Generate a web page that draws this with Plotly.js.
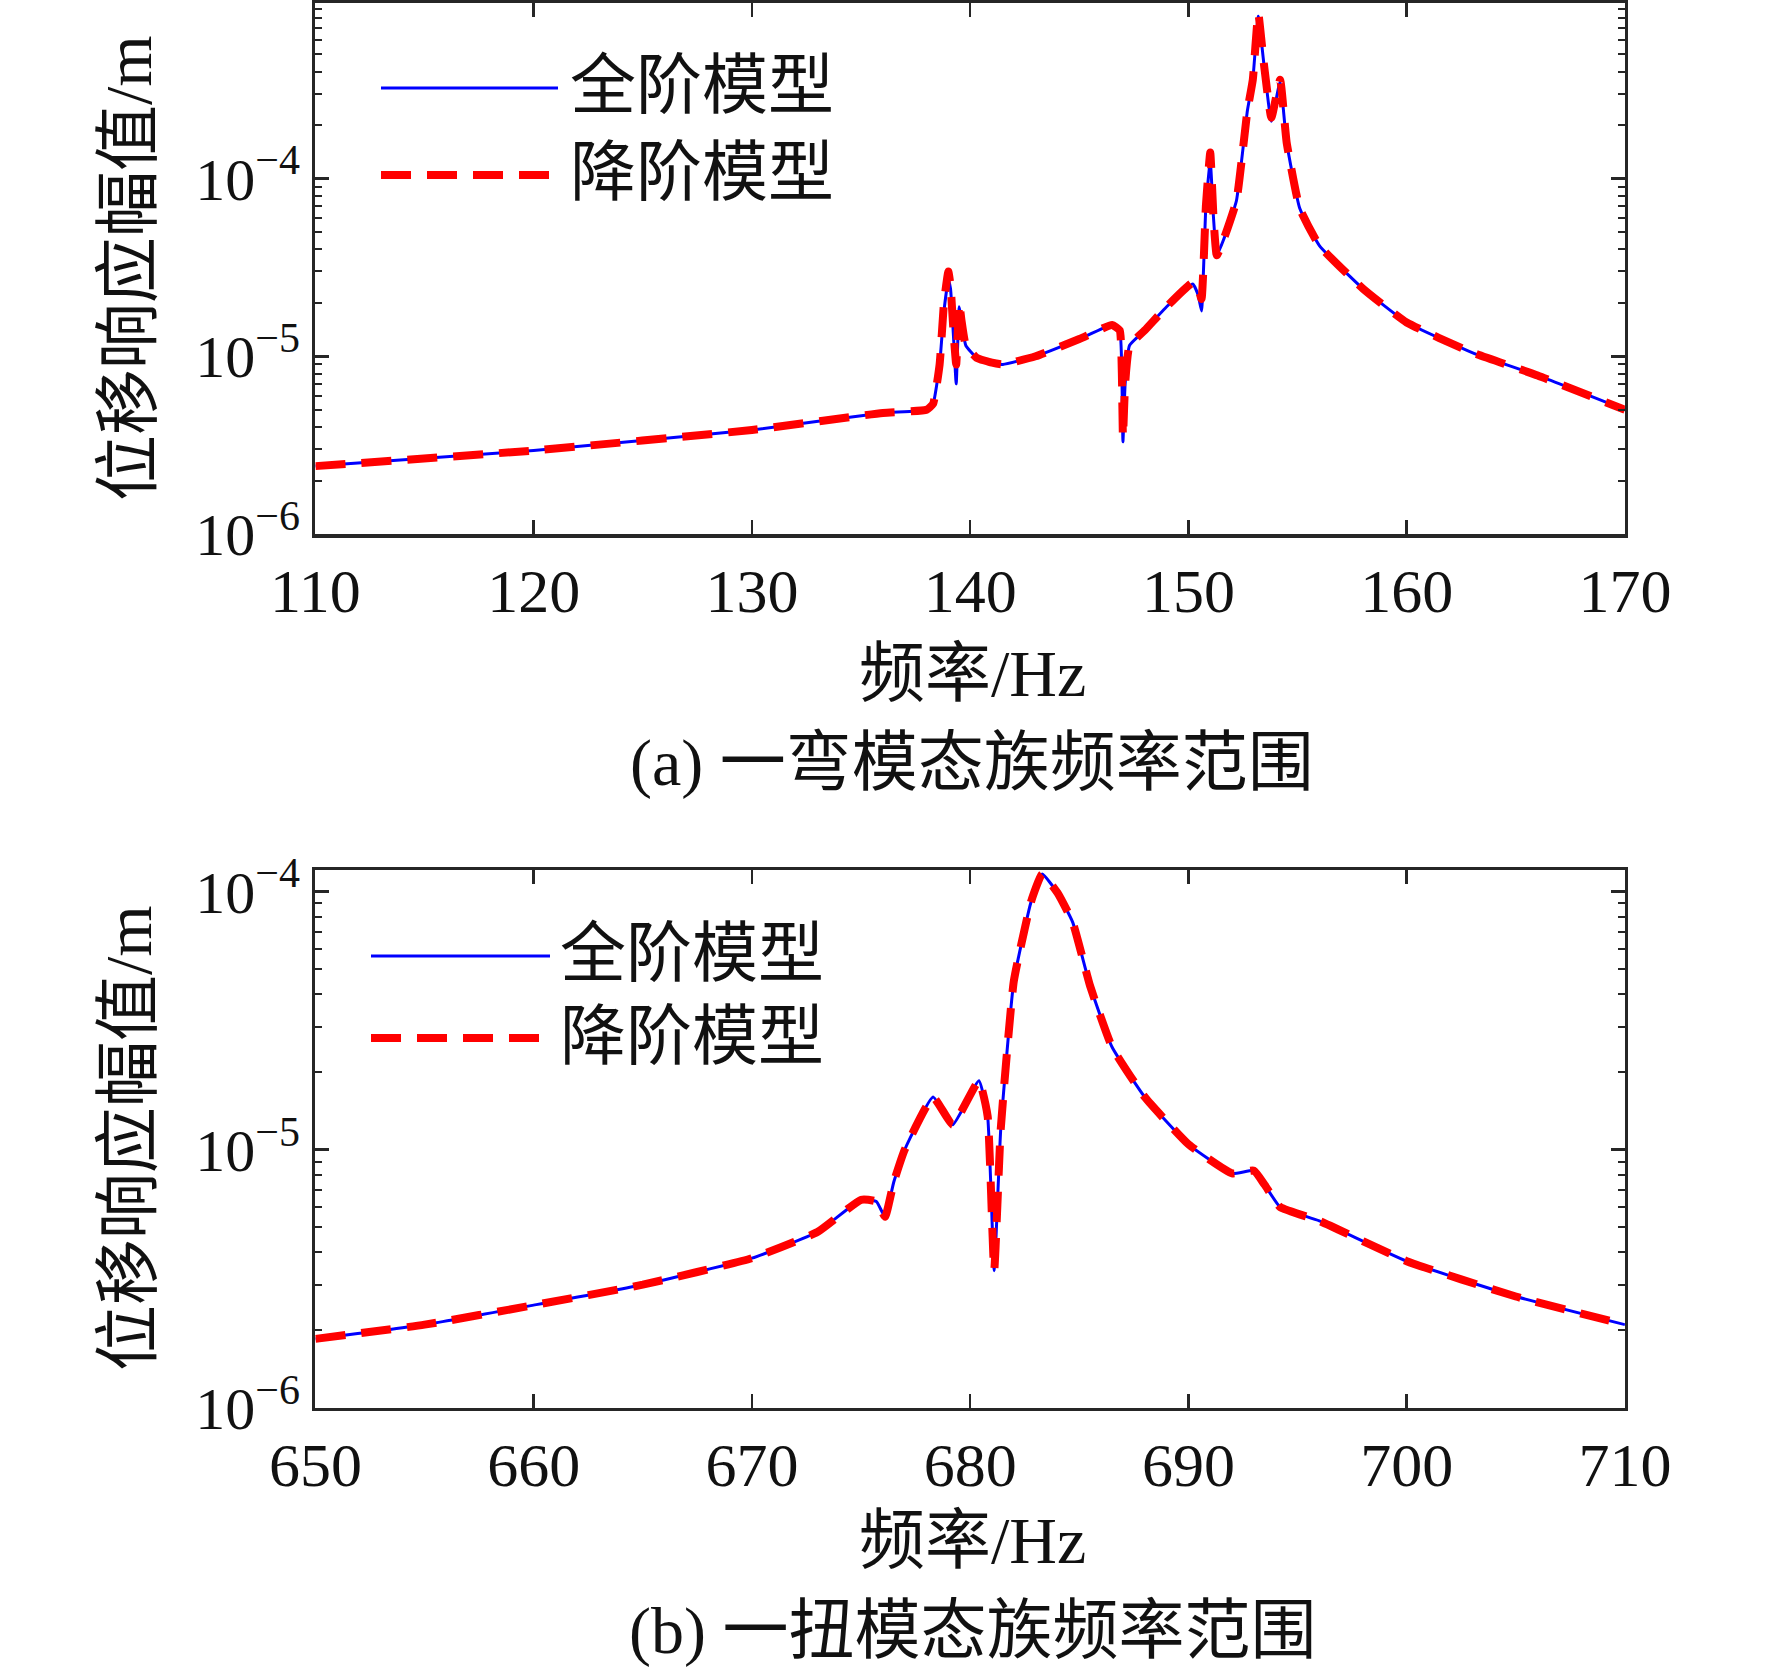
<!DOCTYPE html>
<html>
<head>
<meta charset="utf-8">
<script src="https://cdn.plot.ly/plotly-3.0.1.min.js"></script>
<style>body{margin:0;background:#fff}#chart{width:1772px;height:1674px}</style>
</head>
<body>
<div id="chart"></div>
<script>
// (a) bending family, 110-170 Hz
const freqA = [110,120,130,136,138,138.3,138.6,138.8,139.0,139.1,139.25,139.36,139.5,139.6,139.8,140.3,141,141.5,143,145,146.5,146.85,146.95,147.0,147.1,147.3,148,149,150.2,150.45,150.6,150.8,151.0,151.15,151.3,151.6,152.2,152.7,152.95,153.2,153.45,153.8,154.2,154.5,155.1,156,158,160,163,166,170];
const fullA = [2.41e-6,2.95e-6,3.85e-6,4.8e-6,5.0e-6,5.4e-6,9e-6,1.8e-5,2.7e-5,2.4e-5,1.2e-5,7e-6,1.9e-5,1.6e-5,1.15e-5,9.8e-6,9.2e-6,9e-6,1.0e-5,1.25e-5,1.5e-5,1.4e-5,8e-6,3.3e-6,7e-6,1.15e-5,1.4e-5,1.9e-5,2.55e-5,2.2e-5,1.8e-5,7e-5,1.25e-4,6e-5,3.7e-5,4.5e-5,7.5e-5,2.4e-4,3.6e-4,8.2e-4,4.5e-4,2.1e-4,3.5e-4,1.6e-4,6.8e-5,4.2e-5,2.4e-5,1.55e-5,1.05e-5,7.8e-6,5.0e-6];
const redA = [2.41e-6,2.95e-6,3.85e-6,4.8e-6,5.0e-6,5.4e-6,9e-6,2.0e-5,3.0e-5,2.5e-5,1.3e-5,9e-6,2.0e-5,1.6e-5,1.15e-5,9.8e-6,9.2e-6,9e-6,1.0e-5,1.25e-5,1.5e-5,1.4e-5,8e-6,3.5e-6,7e-6,1.15e-5,1.4e-5,1.9e-5,2.6e-5,2.4e-5,2.1e-5,7e-5,1.4e-4,6e-5,3.7e-5,4.5e-5,7.5e-5,2.4e-4,3.6e-4,8.5e-4,4.5e-4,2.2e-4,3.6e-4,1.6e-4,6.8e-5,4.2e-5,2.4e-5,1.55e-5,1.05e-5,7.8e-6,5.0e-6];

// (b) torsion family, 650-710 Hz
const freqB = [650,655,660,665,670,673,675,675.7,676.1,676.5,677,678.3,679.2,680.4,680.8,681.1,681.4,682,682.8,683.3,684,684.7,685.5,686.5,688,690,692,693,693.5,694.2,696,700,705,710];
const fullB = [1.85e-6,2.1e-6,2.5e-6,3.0e-6,3.8e-6,4.8e-6,6.4e-6,6.3e-6,5.5e-6,7.5e-6,1.0e-5,1.6e-5,1.25e-5,1.85e-5,1.35e-5,3.4e-6,1.2e-5,4.5e-5,9.2e-5,1.17e-4,9.9e-5,7.6e-5,4.3e-5,2.5e-5,1.6e-5,1.05e-5,8.1e-6,8.3e-6,7.3e-6,6.0e-6,5.3e-6,3.7e-6,2.7e-6,2.1e-6];
const redB = fullB.slice();

const serif = 'Liberation Serif, Times New Roman, Noto Sans CJK SC, serif';
const expLabels = ['10<sup>−6</sup>','10<sup>−5</sup>','10<sup>−4</sup>'];

function minorVals(lo, hi) {
  const out = [];
  for (let e = lo; e < hi; e++) for (let m = 2; m <= 9; m++) out.push(m * Math.pow(10, e));
  return out;
}

function xAxis(tv) {
  return {
    domain: [0.178, 0.917], range: [tv[0], tv[tv.length - 1]], tickvals: tv,
    ticks: 'inside', ticklen: 14, tickwidth: 2.5, tickcolor: '#262626',
    showline: true, linewidth: 3.5, linecolor: '#262626', mirror: 'ticks',
    showgrid: false, zeroline: false,
    tickfont: {family: serif, size: 62, color: '#111'}
  };
}
function yAxis(dom, top, minorHi) {
  return {
    domain: dom, type: 'log', range: [-6, top],
    tickvals: [1e-6, 1e-5, 1e-4], ticktext: expLabels,
    ticks: 'inside', ticklen: 14, tickwidth: 2.5, tickcolor: '#262626',
    minor: {tickvals: minorVals(-6, minorHi), ticks: 'inside', ticklen: 7, tickwidth: 2, tickcolor: '#262626'},
    showline: true, linewidth: 3.5, linecolor: '#262626', mirror: 'ticks',
    showgrid: false, zeroline: false,
    tickfont: {family: serif, size: 60, color: '#111'}
  };
}

const blue = {color: '#0000ff', width: 3, shape: 'spline', smoothing: 0.4};
const red = {color: '#ff0000', width: 8, dash: '30px,16px', shape: 'spline', smoothing: 0.4};

const data = [
  {x: freqA, y: fullA, mode: 'lines', line: blue, xaxis: 'x', yaxis: 'y', showlegend: false},
  {x: freqA, y: redA, mode: 'lines', line: red, xaxis: 'x', yaxis: 'y', showlegend: false},
  {x: freqB, y: fullB, mode: 'lines', line: blue, xaxis: 'x2', yaxis: 'y2', showlegend: false},
  {x: freqB, y: redB, mode: 'lines', line: red, xaxis: 'x2', yaxis: 'y2', showlegend: false}
];

function txt(x, y, text, size, rot) {
  return {xref: 'paper', yref: 'paper', x: x / 1772, y: 1 - y / 1674, text: text, showarrow: false,
    xanchor: 'center', yanchor: 'middle', textangle: rot || 0,
    font: {family: serif, size: size, color: '#111'}};
}
function legTxt(x, y, text) {
  const a = txt(x, y, text, 66);
  a.xanchor = 'left';
  return a;
}
function legLine(x0, x1, y, dashed) {
  return {type: 'line', xref: 'paper', yref: 'paper', x0: x0 / 1772, x1: x1 / 1772, y0: 1 - y / 1674, y1: 1 - y / 1674,
    line: dashed ? {color: '#ff0000', width: 8, dash: '30px,16px'} : {color: '#0000ff', width: 3}};
}

const layout = {
  width: 1772, height: 1674, margin: {l: 0, r: 0, t: 0, b: 0},
  paper_bgcolor: '#fff', plot_bgcolor: '#fff',
  xaxis: Object.assign(xAxis([110, 120, 130, 140, 150, 160, 170]), {anchor: 'y'}),
  yaxis: Object.assign(yAxis([0.681, 0.998], -3.014, -3), {anchor: 'x'}),
  xaxis2: Object.assign(xAxis([650, 660, 670, 680, 690, 700, 710]), {anchor: 'y2'}),
  yaxis2: Object.assign(yAxis([0.159, 0.480], -3.918, -4), {anchor: 'x2'}),
  annotations: [
    txt(972, 673, '频率/Hz', 66),
    txt(972, 763, '(a) 一弯模态族频率范围', 66),
    txt(972, 1540, '频率/Hz', 66),
    txt(972, 1631, '(b) 一扭模态族频率范围', 66),
    txt(128, 268, '位移响应幅值/m', 66, -90),
    txt(128, 1138, '位移响应幅值/m', 66, -90),
    legTxt(568, 85, '全阶模型'),
    legTxt(568, 173, '降阶模型'),
    legTxt(558, 953, '全阶模型'),
    legTxt(558, 1036, '降阶模型')
  ],
  shapes: [
    legLine(381, 558, 88, false),
    legLine(381, 558, 175, true),
    legLine(371, 550, 956, false),
    legLine(371, 550, 1038, true)
  ]
};

Plotly.newPlot('chart', data, layout, {displayModeBar: false, staticPlot: true});
</script>
</body>
</html>
